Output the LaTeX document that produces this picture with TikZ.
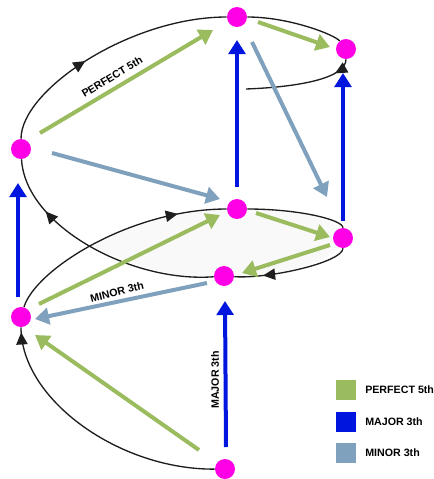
\documentclass[tikz,border=0pt]{standalone}
\usepackage{fontspec}
\setmainfont{Liberation Sans}
\usetikzlibrary{arrows.meta,decorations.markings,backgrounds}

\definecolor{fifthgreen}{RGB}{155,187,95}
\definecolor{majorblue}{RGB}{0,22,222}
\definecolor{minorblue}{RGB}{127,161,189}
\definecolor{notepink}{RGB}{255,0,230}
\definecolor{helixgray}{RGB}{30,30,30}

\begin{document}
\begin{tikzpicture}[x=0.75pt,y=-0.75pt,
  note/.style={circle,fill=notepink,inner sep=0pt,minimum size=15pt},
  interval/.style={line width=3pt,-{Triangle[length=10.5pt,width=12.5pt]}},
  fifth/.style={interval,draw=fifthgreen},
  major/.style={interval,draw=majorblue},
  minor/.style={interval,draw=minorblue},
  helix/.style={draw=helixgray,line width=1pt},
  mid arrow/.style={postaction={decorate},decoration={markings,
    mark=at position #1 with {\arrow{Triangle[length=9pt,width=8.5pt]}}}},
  lbl/.style={font=\fontsize{8}{9.6}\selectfont\bfseries,inner sep=0pt},
  legbox/.style={minimum size=15pt,inner sep=0pt}
]
\useasboundingbox (0,0) rectangle (433,479);

% notes of the helix
\node[note] (A) at (237,17) {};
\node[note] (B) at (346,49) {};
\node[note] (C) at (21,149) {};
\node[note] (D) at (237,209) {};
\node[note] (E) at (343,238) {};
\node[note] (F) at (224,276) {};
\node[note] (G) at (21,317) {};
\node[note] (H) at (225,469) {};
\coordinate (tail) at (246,89);

% the helix itself, behind everything
\begin{scope}[on background layer]
  \begin{scope}
    \clip (93,0) rectangle (433,479);
    \fill[gray!5] (G.center) .. controls (35,270) and (130,209) .. (D.center)
      .. controls (300,209) and (343,220) .. (E.center)
      .. controls (343,262) and (270,279) .. (F.center)
      .. controls (130,283) and (25,225) .. (C.center) -- cycle;
  \end{scope}
  \draw[helix,mid arrow=0.98] (H) .. controls (120,470) and (21,400) .. (G);
  \draw[helix,mid arrow=0.79] (G) .. controls (35,270) and (130,209) .. (D);
  \draw[helix] (D) .. controls (300,209) and (343,220) .. (E);
  \draw[helix,mid arrow=0.75] (E) .. controls (343,262) and (270,279) .. (F);
  \draw[helix,mid arrow=0.76] (F) .. controls (130,283) and (25,225) .. (C);
  \draw[helix,mid arrow=0.41] (C) .. controls (21,90) and (130,17) .. (A);
  \draw[helix] (A) .. controls (290,17) and (335,35) .. (B);
  \draw[helix,mid arrow=0.17] (B) .. controls (346,78) and (300,87) .. (tail);
\end{scope}

% perfect fifths
\draw[fifth] ([shift={(19,-16)}]C.center) -- ([shift={(-24,13)}]A.center);
\draw[fifth] ([shift={(21,5)}]A.center) -- ([shift={(-16,-2)}]B.center);
\draw[fifth] ([shift={(18,-13)}]G.center) -- ([shift={(-17,6)}]D.center);
\draw[fifth] ([shift={(19,4)}]D.center) -- ([shift={(-13,-1)}]E.center);
\draw[fifth] ([shift={(-13,7)}]E.center) -- ([shift={(18,-3)}]F.center);
\draw[fifth] ([shift={(-26,-19)}]H.center) -- ([shift={(14,18)}]G.center);

% major thirds
\draw[major] ([shift={(0,-22)}]D.center) -- ([shift={(0,23)}]A.center);
\draw[major] ([shift={(0,-17)}]E.center) -- ([shift={(-3,24)}]B.center);
\draw[major] ([shift={(-3,-20)}]G.center) -- ([shift={(-3,34)}]C.center);
\draw[major] ([shift={(1,-22)}]H.center) -- ([shift={(1,25)}]F.center);

% minor thirds
\draw[minor] ([shift={(15,25)}]A.center) -- ([shift={(-16,-41)}]E.center);
\draw[minor] ([shift={(31,4)}]C.center) -- ([shift={(-17,-10)}]D.center);
\draw[minor] ([shift={(-17,7)}]F.center) -- ([shift={(14,2)}]G.center);

% interval labels
\node[lbl,rotate=31] (l5) at (112,77) {PERFECT 5th};
\node[lbl,rotate=14] (lmin) at (117,292) {MINOR 3th};
\node[lbl,rotate=90] (lmaj) at (215,380) {MAJOR 3th};

% legend
\node[legbox,fill=fifthgreen] (k5) at (346,390) {};
\node[legbox,fill=majorblue] (kmaj) at (346,422) {};
\node[legbox,fill=minorblue] (kmin) at (346,453) {};
\node[lbl,anchor=west] (t5) at (365,390) {PERFECT 5th};
\node[lbl,anchor=west] (tmaj) at (365,422) {MAJOR 3th};
\node[lbl,anchor=west] (tmin) at (365,453) {MINOR 3th};
\end{tikzpicture}
\end{document}
